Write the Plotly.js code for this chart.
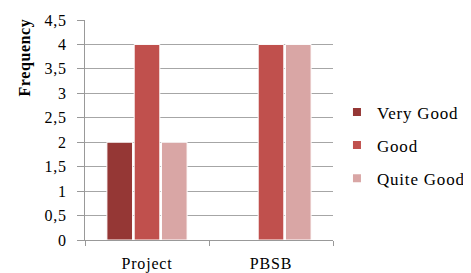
<!DOCTYPE html>
<html><head><meta charset="utf-8">
<script src="https://cdn.plot.ly/plotly-3.0.1.min.js"></script>
<style>body{margin:0;background:#fff}#c{width:471px;height:273px}
#c .legendtext{letter-spacing:0.8px}
#c .xtick text{letter-spacing:0.8px}
#c .ytick text{letter-spacing:0.8px}
#c .annotation-text{letter-spacing:0.6px}
</style>
</head><body><div id="c"></div>
<script>
var categories = ["Project", "PBSB"];
var seriesNames = ["Very Good", "Good", "Quite Good"];
var veryGood = [2, 0];
var good = [4, 4];
var quiteGood = [2, 4];
var tickVals = [0, 0.5, 1, 1.5, 2, 2.5, 3, 3.5, 4, 4.5];
var tickText = ["0", "0,5", "1", "1,5", "2", "2,5", "3", "3,5", "4", "4,5"];
var yTitle = "Frequency";
var colors = ["#953735", "#C0504D", "#D9A6A5"];
var values = [veryGood, good, quiteGood];
var font = "Liberation Serif, Times New Roman, serif";
var traces = seriesNames.map(function(n, i){
  return {type:"bar", name:n, x:categories, y:values[i], showlegend:false,
    marker:{color:colors[i], line:{color:"#ffffff", width:1}}};
});
seriesNames.forEach(function(n, i){
  traces.push({type:"scatter", mode:"markers", name:n, x:[null], y:[null], legendgroup:"g"+i,
    marker:{symbol:"square", size:8, color:colors[i]}, hoverinfo:"skip"});
});
var layout = {
  width:471, height:273, margin:{l:85, r:138, t:20, b:33, autoexpand:false},
  paper_bgcolor:"#fff", plot_bgcolor:"#fff",
  barmode:"group", bargap:0.34, bargroupgap:0.06,
  font:{family:font, size:15, color:"#000"},
  showlegend:true,
  legend:{x:1.016, xanchor:"left", y:0.43, yanchor:"middle", traceorder:"grouped", tracegroupgap:8,
    font:{family:font, size:17, color:"#000"}, bgcolor:"rgba(0,0,0,0)", itemwidth:30},
  xaxis:{showline:true, linecolor:"#999", linewidth:1, ticks:"outside", tickson:"boundaries",
    ticklen:5, tickcolor:"#999", showgrid:false, tickfont:{family:font, size:16},
    ticklabelstandoff:9, range:[-0.5,1.5], automargin:false},
  yaxis:{range:[0,4.5], tickvals:tickVals, ticktext:tickText, showline:true, linecolor:"#999",
    ticks:"outside", ticklen:7, tickcolor:"#999", showgrid:true, gridcolor:"#a6a6a6", gridwidth:1,
    zeroline:false, tickfont:{family:font, size:16}, ticklabelstandoff:7, automargin:false},
  annotations:[{text:"<b>"+yTitle+"</b>", textangle:-90, xref:"paper", yref:"paper",
    x:-0.24, y:0.83, xanchor:"center", yanchor:"middle", showarrow:false,
    font:{family:font, size:16, color:"#000"}}]
};
Plotly.newPlot("c", traces, layout, {displayModeBar:false, staticPlot:true});
</script></body></html>
